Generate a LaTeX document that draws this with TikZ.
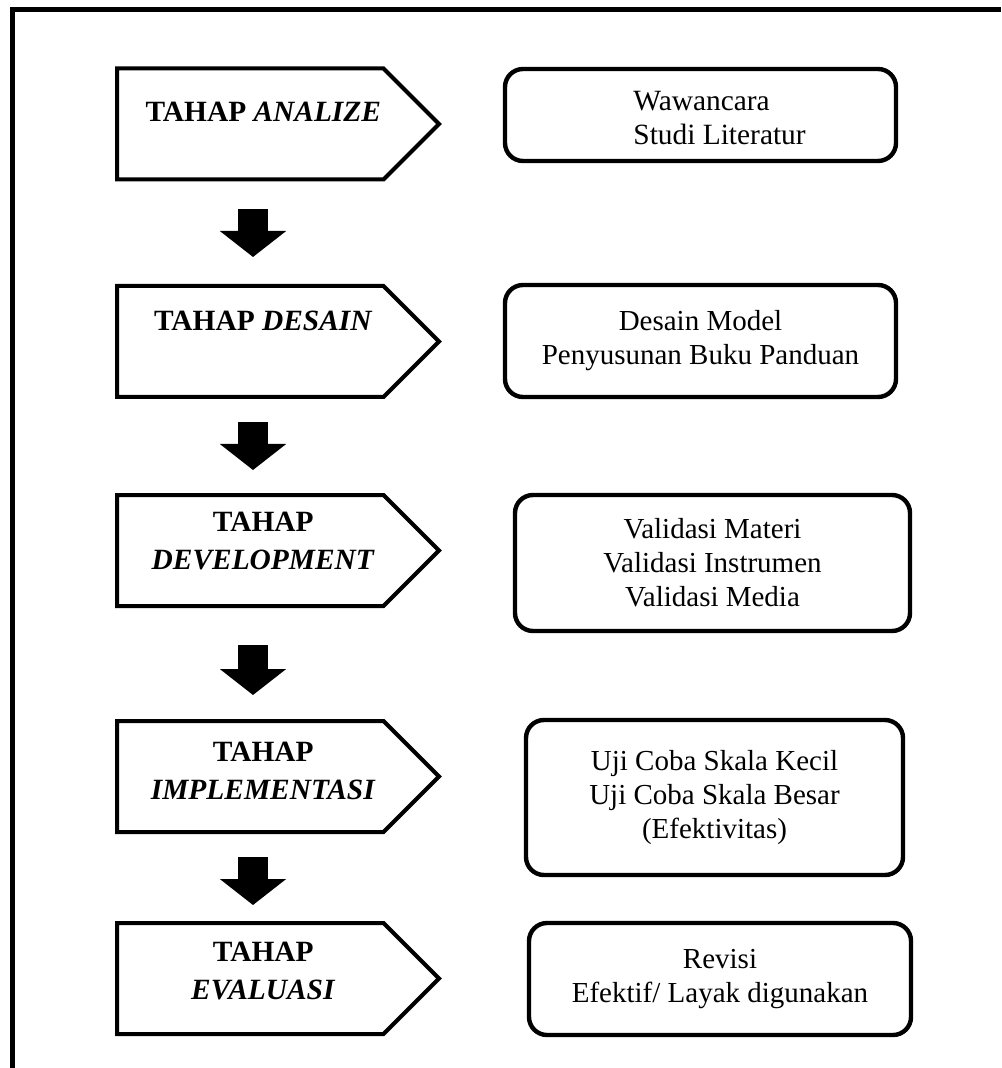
\documentclass[tikz,border=0pt]{standalone}
\usepackage{fontspec}
\setmainfont{Liberation Serif}
\usepackage{tikz}
\usetikzlibrary{shapes.symbols,arrows.meta}

\tikzset{
	stage/.style={signal, signal to=east, draw, line width=2pt, anchor=west, minimum width=161pt, minimum height=55.5pt, inner sep=0pt},
	stagelabel/.style={inner sep=0pt, align=center, font=\bfseries\fontsize{14.7}{19}\selectfont},
	task/.style={draw, rounded corners=9pt, line width=2.2pt, inner sep=0pt, align=center, font=\fontsize{14.5}{17}\selectfont},
	stagearrow/.style={line width=15pt, -{Triangle[width=32.5pt,length=13pt]}}
}

\begin{document}
\begin{tikzpicture}[x=0.5pt, y=-0.5pt]
	\useasboundingbox (0,0) rectangle (1001,1068);
	% Draw frame
	\draw[line width=2.5pt] (12,1068) -- (12,10) -- (1001,10);

	% Stages
	\node[stage] (analize) at (115,124) {};
	\node[stage] (desain) at (115,341.5) {};
	\node[stage] (development) at (115,550.5) {};
	\node[stage] (implementasi) at (115,776.5) {};
	\node[stage] (evaluasi) at (115,978.5) {};
	\node[stagelabel] (analizetext) at ([xshift=6.5pt,yshift=6pt]analize.center) {TAHAP \textit{ANALIZE}};
	\node[stagelabel] (desaintext) at ([xshift=6.5pt,yshift=10.5pt]desain.center) {TAHAP \textit{DESAIN}};
	\node[stagelabel] (developmenttext) at ([xshift=6.5pt,yshift=4.5pt]development.center) {TAHAP\\ \textit{DEVELOPMENT}};
	\node[stagelabel] (implementasitext) at ([xshift=6.5pt,yshift=3pt]implementasi.center) {TAHAP\\ \textit{IMPLEMENTASI}};
	\node[stagelabel] (evaluasitext) at ([xshift=6.5pt,yshift=3.5pt]evaluasi.center) {TAHAP\\ \textit{EVALUASI}};

	% Arrows between stages
	\draw[stagearrow] ([xshift=69pt,yshift=-14pt]analize.south west) -- ([xshift=69pt,yshift=13.5pt]desain.north west);
	\draw[stagearrow] ([xshift=69pt,yshift=-11.5pt]desain.south west) -- ([xshift=69pt,yshift=11.5pt]development.north west);
	\draw[stagearrow] ([xshift=69pt,yshift=-18.5pt]development.south west) -- ([xshift=69pt,yshift=12pt]implementasi.north west);
	\draw[stagearrow] ([xshift=69pt,yshift=-11.5pt]implementasi.south west) -- ([xshift=69pt,yshift=8pt]evaluasi.north west);

	% Activities
	\node[task, minimum width=195.5pt, minimum height=46pt] (wawancara) at (700.5,115) {};
	\node[font=\fontsize{14.7}{17}\selectfont, align=left, anchor=west, inner sep=0pt] (wawancaratext) at (633,118.5) {Wawancara\\Studi Literatur};
	\node[task, minimum width=195.5pt, minimum height=56pt] (model) at (700.5,341) {Desain Model\\Penyusunan Buku Panduan};
	\node[task, minimum width=197.5pt, minimum height=68pt] (validasi) at (712.5,563) {Validasi Materi\\Validasi Instrumen\\Validasi Media};
	\node[task, minimum width=188.5pt, minimum height=77.5pt] (ujicoba) at (714.5,797.5) {Uji Coba Skala Kecil\\Uji Coba Skala Besar\\(Efektivitas)};
	\node[task, minimum width=191pt, minimum height=56pt] (revisi) at (720,979) {Revisi\\Efektif/ Layak digunakan};
\end{tikzpicture}
\end{document}
